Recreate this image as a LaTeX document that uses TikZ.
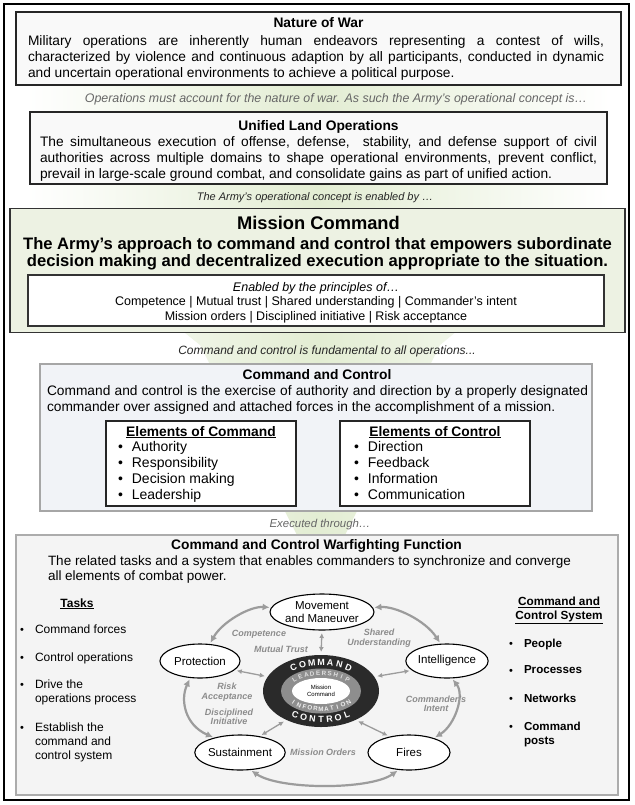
\documentclass[tikz,border=0pt]{standalone}
\usepackage{fontspec}
\setmainfont{Liberation Sans}
\usetikzlibrary{shapes.geometric,arrows.meta,calc}
\definecolor{mcgreen}{HTML}{EDF2E3}
\definecolor{funnel}{HTML}{E3EDD3}
\definecolor{ctwo}{HTML}{F1F3F7}
\definecolor{wff}{HTML}{F4F4F4}
\definecolor{lblgray}{HTML}{8C8C8C}
\definecolor{arrgray}{HTML}{9C9C9C}
\definecolor{ringdark}{HTML}{2A2A2A}
\definecolor{ringmid}{HTML}{8E8E8E}
\newcommand{\fs}[2]{\fontsize{#1}{#2}\selectfont}
\begin{document}
\begin{tikzpicture}[x=1pt,y=-1pt,
  every node/.style={inner sep=0pt,outer sep=0pt},
  panel/.style={anchor=north west,draw=black!85,line width=1.4pt,fill=gray!5},
  greenpanel/.style={anchor=north west,draw=black!80,line width=1.6pt,fill=mcgreen},
  whitepanel/.style={anchor=north west,draw=black!80,line width=1.1pt,fill=white},
  bluepanel/.style={anchor=north west,draw=gray!70,line width=1.1pt,fill=ctwo},
  elpanel/.style={anchor=north west,draw=black!85,line width=1.3pt,fill=white},
  wffpanel/.style={anchor=north west,draw=gray!65,line width=1.2pt,fill=wff},
  title/.style={anchor=base,font=\bfseries\fs{13.8}{15}},
  body/.style={anchor=north,align=justify,font=\fs{13.75}{15.7}},
  trans/.style={anchor=base,font=\itshape\fs{11}{12}},
  wfel/.style={ellipse,draw=black,line width=1.1pt,fill=white,font=\fs{11.5}{12.5},align=center},
  bigarr/.style={draw=arrgray,line width=2.2pt,{Latex[length=7pt,width=7pt]}-{Latex[length=7pt,width=7pt]},shorten <=2pt,shorten >=2pt},
  smallarr/.style={draw=arrgray,line width=1.3pt,{Latex[length=5pt,width=5pt]}-{Latex[length=5pt,width=5pt]},shorten <=3pt,shorten >=3pt},
  lbl/.style={font=\bfseries\itshape\fs{9}{9.5},text=lblgray,align=center},
  task/.style={anchor=north west,align=left,font=\fs{12}{14}},
  sysitem/.style={anchor=north west,align=left,font=\bfseries\fs{11.6}{14}},
  bul/.style={anchor=base,font=\fs{11}{14}},
  ringletter/.style={font=\bfseries\fs{9}{9},text=white},
  ringsmall/.style={font=\bfseries\fs{6.3}{6.5}}
]
\useasboundingbox (0,0) rectangle (634,805);
\fill[white] (0,0) rectangle (634,805);
\node[anchor=north west,draw=black,line width=1.2pt,minimum width=625,minimum height=796] (frame) at (4,4) {};

% faint green funnel
\shade[left color=white,right color=white,middle color=funnel]
  (26,84) -- (610,84) -- (610,205) -- (440,345) -- (345,535) -- (297,535) -- (200,345) -- (26,205) -- cycle;

% Nature of War
\node[panel,minimum width=605,minimum height=73] (now) at (16,12) {};
\node[title] (nowt) at (318.5,27.5) {Nature of War};
\node[body,text width=576] (nowb) at (316,35.9) {Military operations are inherently human endeavors representing a contest of wills,\linebreak characterized by violence and continuous adaption by all participants, conducted in dynamic\linebreak and uncertain operational environments to achieve a political purpose.};

\node[trans,font=\itshape\fs{12.4}{13},text=black!60] (t1) at (336,103) {Operations must account for the nature of war. As such the Army’s operational concept is…};

% Unified Land Operations
\node[panel,minimum width=577,minimum height=72] (ulo) at (30,112) {};
\node[title] (ulot) at (318.5,130.5) {Unified Land Operations};
\node[body,text width=557] (ulob) at (318.5,136.9) {The simultaneous execution of offense, defense,\ \ stability, and defense support of civil\linebreak authorities across multiple domains to shape operational environments, prevent conflict,\linebreak prevail in large-scale ground combat, and consolidate gains as part of unified action.};

\node[trans,text=black!85] (t2) at (315,200.5) {The Army’s operational concept is enabled by …};

% Mission Command
\node[greenpanel,minimum width=615,minimum height=124] (mc) at (10,208.5) {};
\node[anchor=base,font=\bfseries\fs{18.3}{20}] (mct) at (318.5,229.5) {Mission Command};
\node[anchor=north,align=center,font=\bfseries\fs{16.6}{17}] (mcb) at (317.5,237.9) {The Army’s approach to command and control that empowers subordinate\\decision making and decentralized execution appropriate to the situation.};
\node[whitepanel,minimum width=576,minimum height=51] (prin) at (28,275) {};
\node[anchor=north,align=center,font=\fs{12.5}{14.5}] (print) at (316,282.4) {\textit{Enabled by the principles of…}\\Competence | Mutual trust | Shared understanding | Commander’s intent\\Mission orders | Disciplined initiative | Risk acceptance};

\node[trans,font=\itshape\fs{12}{13},text=black!85] (t3) at (327,354) {Command and control is fundamental to all operations...};

% Command and Control
\node[bluepanel,minimum width=552,minimum height=147] (c2) at (40,364) {};
\node[title] (c2t) at (317,379.5) {Command and Control};
\node[body,text width=541] (c2b) at (317.5,385.9) {Command and control is the exercise of authority and direction by a properly designated\linebreak commander over assigned and attached forces in the accomplishment of a mission.};

\node[elpanel,minimum width=190,minimum height=85] (eoc) at (106,421) {};
\node[title,font=\bfseries\fs{13.8}{15}] (eoct) at (201,436) {\underline{Elements of Command}};
\node[anchor=north west,align=left,font=\fs{14}{16}] (eocl) at (118,441.8) {\textbullet\hspace{9pt}Authority\\\textbullet\hspace{9pt}Responsibility\\\textbullet\hspace{9pt}Decision making\\\textbullet\hspace{9pt}Leadership};

\node[elpanel,minimum width=190,minimum height=85] (eoctl) at (340,421) {};
\node[title,font=\bfseries\fs{13.8}{15}] (eoctlt) at (435,436) {\underline{Elements of Control}};
\node[anchor=north west,align=left,font=\fs{14}{16}] (eoctll) at (354,441.8) {\textbullet\hspace{9pt}Direction\\\textbullet\hspace{9pt}Feedback\\\textbullet\hspace{9pt}Information\\\textbullet\hspace{9pt}Communication};

\node[trans,font=\itshape\fs{11.4}{12},text=black!60] (t4) at (320,527) {Executed through…};

% Warfighting function
\node[wffpanel,minimum width=602,minimum height=260] (wf) at (16,535) {};
\node[title] (wft) at (316.5,549.5) {Command and Control Warfighting Function};
\node[anchor=north west,align=left,font=\fs{13.5}{14.5}] (wfb) at (48,556) {The related tasks and a system that enables commanders to synchronize and converge\\all elements of combat power.};

% Tasks
\node[anchor=base,font=\bfseries\fs{12}{13}] (tasks) at (77,607) {\underline{Tasks}};
\node[bul] (b1) at (22,633.4) {\textbullet};
\node[task] (k1) at (35,624.6) {Command forces};
\node[bul] (b2) at (22,661.4) {\textbullet};
\node[task] (k2) at (35,652.6) {Control operations};
\node[bul] (b3) at (22,688.4) {\textbullet};
\node[task] (k3) at (35,679.6) {Drive the\\operations process};
\node[bul] (b4) at (22,731.4) {\textbullet};
\node[task] (k4) at (35,722.6) {Establish the\\command and\\control system};

% C2 system
\node[anchor=north,align=center,font=\bfseries\fs{11.8}{14}] (sys) at (559,597) {\underline{Command and}\\\underline{Control System}};
\node[bul] (s1b) at (511,647.1) {\textbullet};
\node[sysitem] (s1) at (524,638.6) {People};
\node[bul] (s2b) at (511,674.1) {\textbullet};
\node[sysitem] (s2) at (524,665.6) {Processes};
\node[bul] (s3b) at (511,702.1) {\textbullet};
\node[sysitem] (s3) at (524,693.6) {Networks};
\node[bul] (s4b) at (511,730.1) {\textbullet};
\node[sysitem] (s4) at (524,721.6) {Command\\posts};

% diagram
\coordinate (cc) at (321,691);
\node[ellipse,fill=ringdark,minimum width=116,minimum height=72] (core) at (cc) {};
\node[ellipse,fill=ringmid,minimum width=80,minimum height=45] (ring) at (cc) {};
\node[ellipse,fill=white,minimum width=58,minimum height=26,align=center,font=\fs{6}{6.5}] (mcore) at (cc) {Mission\\Command};

\foreach \ch [count=\i] in {C,O,M,M,A,N,D} {
  \pgfmathsetmacro\dx{(\i-4)*9.2}
  \pgfmathsetmacro\ph{360-acos(\dx/48.5)}
  \pgfmathsetmacro\rot{atan2(-28.5*cos(\ph),-48.5*sin(\ph))}
  \node[ringletter,rotate=\rot] at ($(cc)+(\ph:48.5 and 28.5)$) {\ch};
}
\foreach \ch [count=\i] in {C,O,N,T,R,O,L} {
  \pgfmathsetmacro\dx{(\i-4)*8.6}
  \pgfmathsetmacro\ph{acos(\dx/48.5)}
  \pgfmathsetmacro\rot{atan2(28.5*cos(\ph),48.5*sin(\ph))}
  \node[ringletter,rotate=\rot] at ($(cc)+(\ph:48.5 and 28.5)$) {\ch};
}
\foreach \ch [count=\i] in {L,E,A,D,E,R,S,H,I,P} {
  \pgfmathsetmacro\dx{(\i-5.5)*5.9}
  \pgfmathsetmacro\ph{360-acos(\dx/35)}
  \pgfmathsetmacro\rot{atan2(-18*cos(\ph),-35*sin(\ph))}
  \node[ringsmall,text=gray!25,rotate=\rot] at ($(cc)+(\ph:35 and 18)$) {\ch};
}
\foreach \ch [count=\i] in {I,N,F,O,R,M,A,T,I,O,N} {
  \pgfmathsetmacro\dx{(\i-6)*5.5}
  \pgfmathsetmacro\ph{acos(\dx/35)}
  \pgfmathsetmacro\rot{atan2(18*cos(\ph),35*sin(\ph))}
  \node[ringsmall,text=gray!12,rotate=\rot] at ($(cc)+(\ph:35 and 18)$) {\ch};
}

\node[wfel,minimum width=90,minimum height=36] (mm) at (322,612) {Movement\\and Maneuver};
\node[wfel,minimum width=80,minimum height=34] (prot) at (200,661) {Protection};
\node[wfel,minimum width=80,minimum height=34] (intel) at (447,661) {Intelligence};
\node[wfel,minimum width=84,minimum height=35] (sust) at (240,752.5) {Sustainment};
\node[wfel,minimum width=82,minimum height=35] (fires) at (409,752.5) {Fires};

\draw[bigarr] (prot.60) .. controls (222,622) and (250,606) .. (mm.175);
\draw[bigarr] (mm.5) .. controls (395,606) and (425,620) .. (intel.110);
\draw[bigarr] (intel.-75) .. controls (465,695) and (455,725) .. (fires.30);
\draw[bigarr] (fires.-120) .. controls (370,790) and (280,790) .. (sust.-60);
\draw[bigarr] (sust.150) .. controls (185,725) and (180,700) .. (prot.-120);

\draw[smallarr] (mm.south) -- (core.north);
\draw[smallarr] (prot.-15) -- (core.165);
\draw[smallarr] (intel.195) -- (core.15);
\draw[smallarr] (sust.40) -- (core.-140);
\draw[smallarr] (fires.140) -- (core.-40);

\node[lbl] (lc) at (259,634) {Competence};
\node[lbl] (lm) at (281,649) {Mutual Trust};
\node[lbl] (ls) at (379,638) {Shared\\Understanding};
\node[lbl] (lr) at (227,692) {Risk\\Acceptance};
\node[lbl] (ld) at (229,717) {Disciplined\\Initiative};
\node[lbl] (li) at (436,704) {Commander’s\\Intent};
\node[lbl] (lo) at (323,752) {Mission Orders};
\end{tikzpicture}
\end{document}
